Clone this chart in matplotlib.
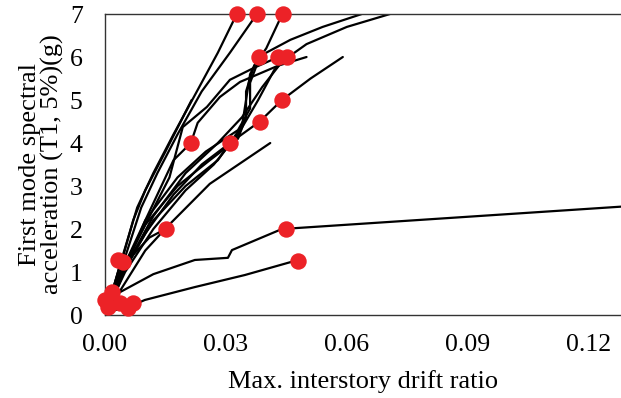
import numpy as np
import matplotlib
matplotlib.use('Agg')
import matplotlib.pyplot as plt

plt.rcParams['font.family'] = ['Liberation Serif', 'DejaVu Serif']

# IDA curves: (drift ratio, Sa)
curves_x = [
    [0, 0.002, 0.004, 0.008, 0.012, 0.017, 0.0228, 0.028, 0.0327],
    [0, 0.002, 0.0045, 0.009, 0.013, 0.018, 0.024, 0.031, 0.0377],
    [0, 0.004, 0.007, 0.010, 0.015, 0.0215],
    [0, 0.003, 0.006, 0.010, 0.014, 0.017, 0.0213, 0.023, 0.0285, 0.0335, 0.043, 0.050],
    [0, 0.004, 0.010, 0.017, 0.024, 0.031, 0.0384, 0.0439, 0.051, 0.059],
    [0, 0.004, 0.010, 0.018, 0.025, 0.033, 0.036, 0.036, 0.038, 0.040, 0.046, 0.054, 0.0637],
    [0, 0.005, 0.012, 0.020, 0.028, 0.034, 0.039, 0.044, 0.050, 0.060, 0.0707],
    [0, 0.004, 0.010, 0.018, 0.026, 0.033, 0.035, 0.035, 0.037, 0.040, 0.042, 0.044],
    [0, 0.005, 0.012, 0.020, 0.028, 0.034, 0.035, 0.036, 0.0382],
    [0, 0.004, 0.010, 0.016, 0.0193, 0.0253, 0.031, 0.037, 0.043],
    [0, 0.005, 0.012, 0.020, 0.027, 0.033, 0.038, 0.042, 0.045],
    [0, 0.004, 0.010, 0.0154, 0.026, 0.041],
    [0, 0.003, 0.007, 0.011, 0.015],
    [0, 0.001, 0.0037, 0.012, 0.0223, 0.0305, 0.0315, 0.0439, 0.128],
    [0, 0.002, 0.006, 0.0082, 0.0099, 0.0223, 0.0347, 0.0479],
    [0, 0.002, 0.004],
]
curves_y = [
    [0, 0.6, 1.25, 2.5, 3.3, 4.2, 5.2, 6.1, 7.0],
    [0, 0.5, 1.2, 2.5, 3.3, 4.2, 5.2, 6.1, 7.0],
    [0, 1.2, 2.2, 2.9, 3.8, 5.0],
    [0, 0.6, 1.3, 2.2, 3.0, 3.6, 4.0, 4.47, 5.07, 5.42, 5.8, 6.0],
    [0, 0.9, 1.9, 2.8, 3.5, 4.0, 4.5, 5.0, 5.5, 6.0],
    [0, 1.0, 2.2, 3.2, 3.8, 4.3, 4.8, 5.4, 5.9, 6.1, 6.4, 6.7, 7.0],
    [0, 1.1, 2.3, 3.3, 4.0, 4.6, 5.3, 5.9, 6.3, 6.7, 7.0],
    [0, 1.0, 2.1, 3.0, 3.6, 4.1, 4.6, 5.2, 5.8, 6.2, 6.6, 7.0],
    [0, 1.1, 2.2, 3.0, 3.6, 4.4, 5.0, 5.6, 6.0],
    [0, 1.0, 2.1, 3.2, 4.37, 4.84, 5.47, 5.75, 6.0],
    [0, 1.0, 2.0, 2.9, 3.5, 4.2, 5.0, 5.7, 6.0],
    [0, 0.6, 1.5, 2.05, 3.05, 4.0],
    [0, 0.8, 1.4, 1.8, 2.0],
    [0, 0.3, 0.53, 0.95, 1.28, 1.33, 1.51, 2.0, 2.52],
    [0, 0.1, 0.2, 0.28, 0.35, 0.65, 0.93, 1.28],
    [0, 0.6, 1.25],
]

# collapse points (red dots)
dots_x = [0.0327, 0.0377, 0.0441, 0.0382, 0.0429, 0.0451, 0.0439, 0.0384, 0.0213, 0.031,
          0.0151, 0.0449, 0.0479, 0.0032, 0.0045, 0.0017, 0.0, 0.0007, 0.0037, 0.0069, 0.0057]
dots_y = [7, 7, 7, 6, 6, 6, 5, 4.5, 4, 4,
          2, 2, 1.25, 1.28, 1.23, 0.53, 0.35, 0.19, 0.28, 0.28, 0.16]

xticks = [0.00, 0.03, 0.06, 0.09, 0.12]
yticks = [0, 1, 2, 3, 4, 5, 6, 7]

fig = plt.figure(figsize=(6.21, 3.98), dpi=100)
ax = fig.add_axes([0.169, 0.2085, 0.831, 0.7563])

for cx, cy in zip(curves_x, curves_y):
    ax.plot(cx, cy, color='black', lw=1.6, solid_capstyle='round')

ax.scatter(dots_x, dots_y, s=140, color='#ec2227', zorder=5, clip_on=False, linewidths=0)

ax.set_xlim(0, 0.128)
ax.set_ylim(0, 7)
ax.set_xticks(xticks)
ax.set_xticklabels(['%.2f' % t for t in xticks])
ax.set_yticks(yticks)
ax.tick_params(length=0, labelsize=18.5)
ax.tick_params(axis='y', pad=16)
ax.tick_params(axis='x', pad=14)
ax.spines['right'].set_visible(False)
for s in ['left', 'bottom', 'top']:
    ax.spines[s].set_linewidth(1.0)
    ax.spines[s].set_color('#333333')

ax.set_xlabel('Max. interstory drift ratio', fontsize=19, labelpad=10)
ax.set_ylabel('First mode spectral\nacceleration (T1, 5%)(g)', fontsize=19, labelpad=4,
              linespacing=1.0)

fig.savefig('out.png', dpi=100)
